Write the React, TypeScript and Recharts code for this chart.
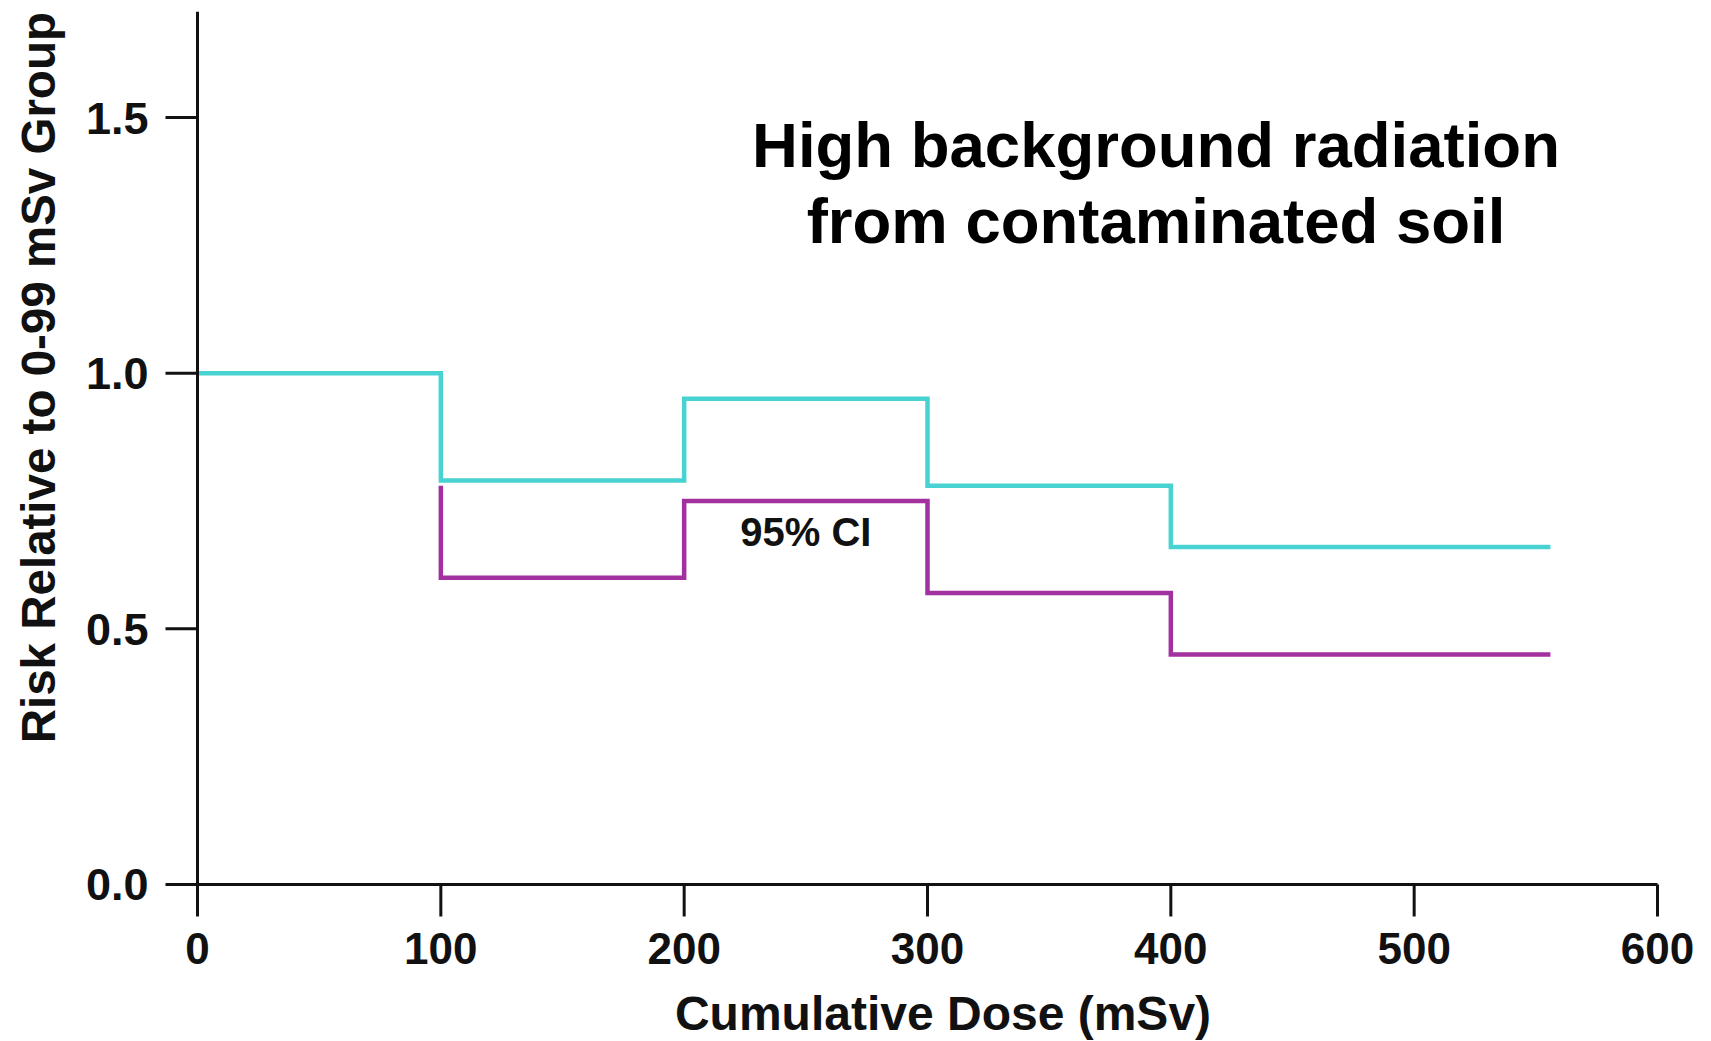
import React from "react";
import {
  LineChart,
  Line,
  XAxis,
  YAxis,
  ReferenceDot,
} from "recharts";

// ---- data ----
const doseUpper = [0, 100, 200, 300, 400, 556];
const riskUpper = [1.0, 0.79, 0.95, 0.78, 0.66, 0.66];
const doseLower = [100, 100, 200, 300, 400, 556];
const riskLower = [0.78, 0.6, 0.75, 0.57, 0.45, 0.45];
const xTicks = [0, 100, 200, 300, 400, 500, 600];
const yTicks = [0, 0.5, 1.0, 1.5];
const titleLines = ["High background radiation", "from contaminated soil"];
const xTitle = "Cumulative Dose (mSv)";
const yTitle = "Risk Relative to 0-99 mSv Group";
const ciLabel = "95% CI";
const ciPos = { dose: 250, risk: 0.69 };

const upperData = doseUpper.map((d, i) => ({ dose: d, risk: riskUpper[i] }));
const lowerData = doseLower.map((d, i) => ({ dose: d, risk: riskLower[i] }));

const FONT = "'Liberation Sans', Arial, Helvetica, sans-serif";
const INK = "#111111";
const CYAN = "#48d3d2";
const MAGENTA = "#a2309f";

const YTitleLabel = (props: any) => {
  const vb = props.viewBox || {};
  const cx = (vb.x ?? 0) + 31;
  const cy = (vb.y ?? 0) + 366;
  return (
    <text
      x={cx}
      y={cy}
      transform={`rotate(-90, ${cx}, ${cy})`}
      textAnchor="middle"
      dominantBaseline="central"
      fill={INK}
      fontSize={47.5}
      fontWeight={700}
      fontFamily={FONT}
    >
      {yTitle}
    </text>
  );
};

const XTitleLabel = (props: any) => {
  const vb = props.viewBox || {};
  const cx = (vb.x ?? 0) + (vb.width ?? 0) / 2 + 15.5;
  const cy = (vb.y ?? 0) + 129;
  return (
    <text
      x={cx}
      y={cy}
      textAnchor="middle"
      dominantBaseline="central"
      fill={INK}
      fontSize={48}
      fontWeight={700}
      fontFamily={FONT}
    >
      {xTitle}
    </text>
  );
};

export default function App() {
  return (
    <div style={{ position: "relative", width: 1700, height: 1033 }}>
      <LineChart
        width={1700}
        height={1033}
        margin={{ top: 3.7, right: 50.5, bottom: 0, left: 0 }}
      >
        <XAxis
          type="number"
          dataKey="dose"
          domain={[0, 600]}
          ticks={xTicks}
          height={156.5}
          tickSize={32}
          tickMargin={16}
          axisLine={{ stroke: INK, strokeWidth: 3 }}
          tickLine={{ stroke: INK, strokeWidth: 3 }}
          tick={{ fill: INK, fontSize: 44, fontWeight: 700, fontFamily: FONT }}
          label={{ content: XTitleLabel }}
        />
        <YAxis
          type="number"
          domain={[0, 1.707]}
          ticks={yTicks}
          width={189.5}
          tickSize={32}
          tickMargin={17}
          tickFormatter={(v: number) => v.toFixed(1)}
          axisLine={{ stroke: INK, strokeWidth: 3 }}
          tickLine={{ stroke: INK, strokeWidth: 3 }}
          tick={{ fill: INK, fontSize: 45, fontWeight: 700, fontFamily: FONT }}
          label={{ content: YTitleLabel }}
          allowDataOverflow
        />
        <Line
          data={upperData}
          dataKey="risk"
          type="stepAfter"
          stroke={CYAN}
          strokeWidth={4.5}
          dot={false}
          activeDot={false}
          isAnimationActive={false}
        />
        <Line
          data={lowerData}
          dataKey="risk"
          type="stepAfter"
          stroke={MAGENTA}
          strokeWidth={4.5}
          dot={false}
          activeDot={false}
          isAnimationActive={false}
        />
        <ReferenceDot
          x={ciPos.dose}
          y={ciPos.risk}
          r={0}
          fill="none"
          stroke="none"
          label={{
            value: ciLabel,
            position: "center",
            fill: INK,
            fontSize: 40,
            fontWeight: 700,
            fontFamily: FONT,
          }}
        />
      </LineChart>
      <div
        style={{
          position: "absolute",
          left: 648,
          top: 99,
          width: 1000,
          textAlign: "center",
          fontFamily: FONT,
          fontWeight: 700,
          fontSize: 63.5,
          lineHeight: "76px",
          color: "#000",
        }}
      >
        {titleLines.map((t) => (
          <div key={t}>{t}</div>
        ))}
      </div>
    </div>
  );
}
